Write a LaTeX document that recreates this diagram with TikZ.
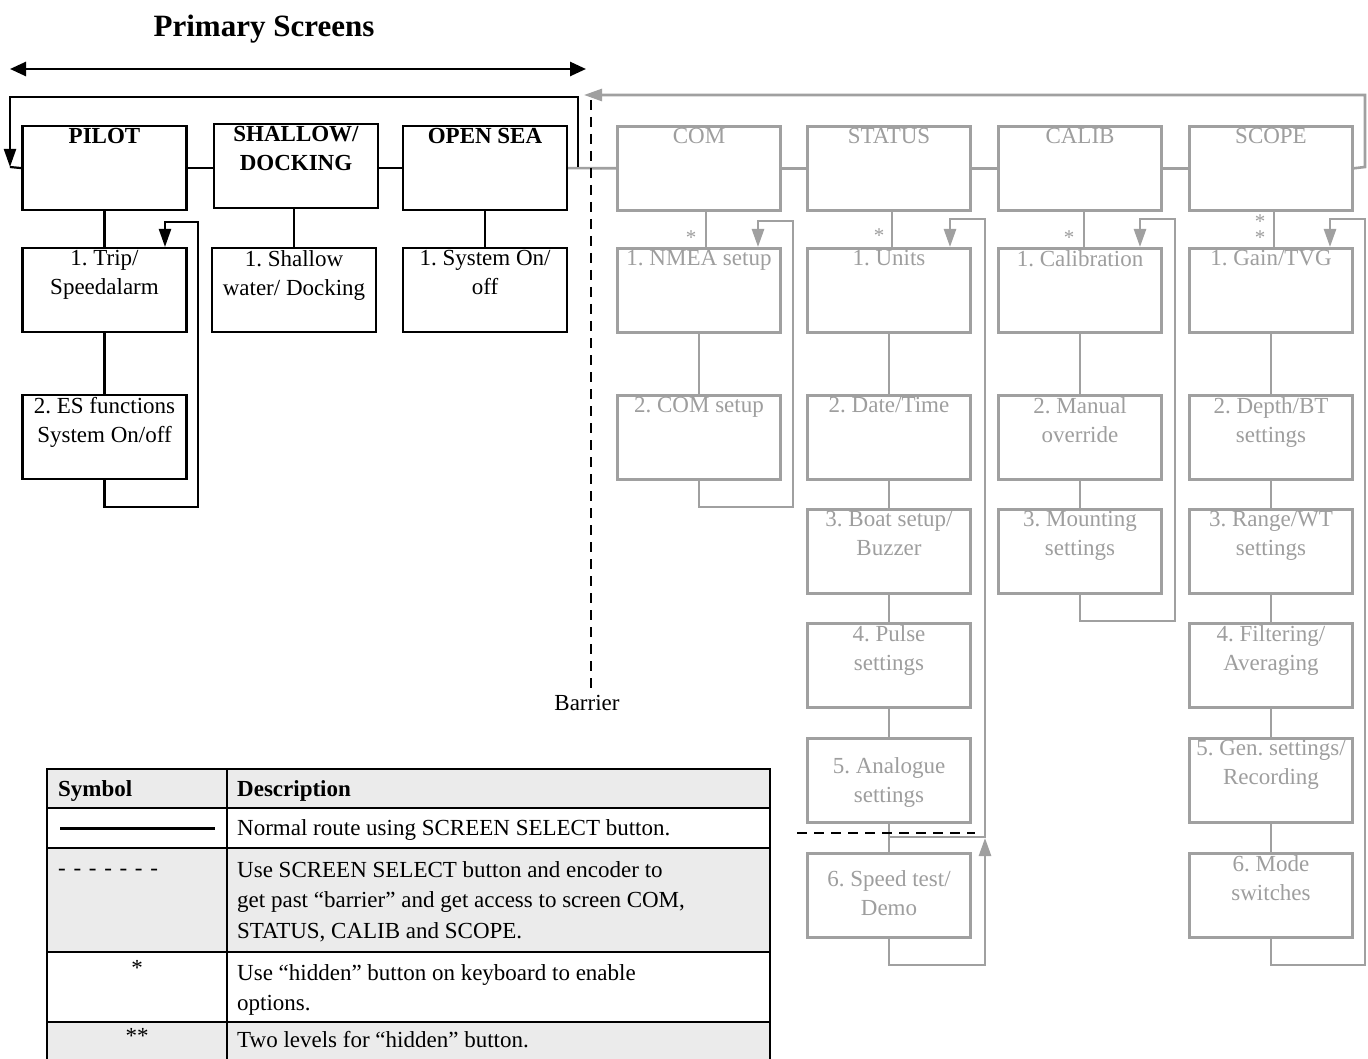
\documentclass[tikz,border=0pt]{standalone}
\usepackage{fontspec}
\setmainfont{Liberation Serif}
\usetikzlibrary{arrows.meta}
\definecolor{gl}{HTML}{A0A0A0}
\definecolor{gt}{HTML}{9E9E9E}
\definecolor{tfill}{HTML}{EBEBEB}
\newcommand\scrbx[7]{\node[#2] (#1) at (#3,#4) {}; \node[#5] (#1t) at (#3,#4+#6) {#7};}
\begin{document}
\frenchspacing
\begin{tikzpicture}[x=1pt,y=-1pt,
  bbox/.style={draw=black,line width=2.2pt,minimum width=164pt,minimum height=84pt,inner sep=0pt,anchor=north},
  gbox/.style={draw=gl,line width=2.6pt,minimum width=163pt,minimum height=84pt,inner sep=0pt,anchor=north},
  btxt/.style={anchor=north,inner sep=0pt,align=center,text=black,font=\fontsize{23}{29}\selectfont},
  gtxt/.style={anchor=north,inner sep=0pt,align=center,text=gt,font=\fontsize{23}{29}\selectfont},
  bline/.style={draw=black,line width=2.2pt},
  gline/.style={draw=gl,line width=2.6pt},
  barr/.style={-{Triangle[length=18pt,width=12pt]}},
  ast/.style={text=gt,inner sep=0pt,anchor=base,font=\fontsize{21}{21}\selectfont},
  ttxt/.style={anchor=north west,inner sep=0pt,align=left,font=\fontsize{23}{30.5}\selectfont},
]
\useasboundingbox (0,0) rectangle (1368,1059);
\fill[white] (0,0) rectangle (1368,1059);

% title and double arrow
\node[font=\fontsize{31}{31}\selectfont\bfseries] (title) at (264,29) {Primary Screens};
\coordinate (dl) at (10,69);
\coordinate (dr) at (586,69);
\draw[line width=2.6pt,{Triangle[length=16pt,width=14pt]}-{Triangle[length=16pt,width=14pt]}] (dl) -- (dr);

% primary boxes
\scrbx{pilot}{bbox}{104.5}{125}{btxt}{3}{\bfseries PILOT}
\scrbx{shallow}{bbox}{296}{123}{btxt}{3}{\bfseries SHALLOW/\\\bfseries DOCKING}
\scrbx{opensea}{bbox}{485}{125}{btxt}{3}{\bfseries OPEN SEA}
\scrbx{trip}{bbox}{104.5}{247}{btxt}{3}{1. Trip/\\Speedalarm}
\scrbx{shw}{bbox}{294}{247}{btxt}{3}{1. Shallow\\water/ Docking}
\scrbx{sys}{bbox}{485}{247}{btxt}{3}{1. System On/\\off}
\scrbx{es}{bbox}{104.5}{394}{btxt}{3}{2. ES functions\\System On/off}

% gray screens
\scrbx{com}{gbox}{699}{125}{gtxt}{3}{COM}
\scrbx{nmea}{gbox}{699}{247}{gtxt}{3}{1. NMEA setup}
\scrbx{comset}{gbox}{699}{394}{gtxt}{3}{2. COM setup}

\scrbx{status}{gbox}{889}{125}{gtxt}{3}{STATUS}
\scrbx{units}{gbox}{889}{247}{gtxt}{3}{1. Units}
\scrbx{date}{gbox}{889}{394}{gtxt}{3}{2. Date/Time}
\scrbx{boat}{gbox}{889}{508}{gtxt}{3}{3. Boat setup/\\Buzzer}
\scrbx{pulse}{gbox}{889}{622}{gtxt}{3}{4. Pulse\\settings}
\scrbx{analog}{gbox}{889}{737}{gtxt}{20}{5. Analogue\\settings}
\scrbx{speed}{gbox}{889}{852}{gtxt}{18}{6. Speed test/\\Demo}

\scrbx{calib}{gbox}{1080}{125}{gtxt}{3}{CALIB}
\scrbx{calibr}{gbox}{1080}{247}{gtxt}{3}{1. Calibration}
\scrbx{manual}{gbox}{1080}{394}{gtxt}{3}{2. Manual\\override}
\scrbx{mount}{gbox}{1080}{508}{gtxt}{3}{3. Mounting\\settings}

\scrbx{scope}{gbox}{1271}{125}{gtxt}{3}{SCOPE}
\scrbx{gain}{gbox}{1271}{247}{gtxt}{3}{1. Gain/TVG}
\scrbx{depth}{gbox}{1271}{394}{gtxt}{3}{2. Depth/BT\\settings}
\scrbx{range}{gbox}{1271}{508}{gtxt}{3}{3. Range/WT\\settings}
\scrbx{filt}{gbox}{1271}{622}{gtxt}{3}{4. Filtering/\\Averaging}
\scrbx{gen}{gbox}{1271}{737}{gtxt}{3}{5. Gen. settings/\\Recording}
\scrbx{mode}{gbox}{1271}{852}{gtxt}{3}{6. Mode\\switches}

% black connectors
\draw[bline] (pilot.east) -- (shallow.west |- pilot.east);
\draw[bline] (shallow.east |- opensea.west) -- (opensea.west);
\draw[bline] (pilot.south) -- (trip.north);
\draw[bline] (shallow.south -| shw.north) -- (shw.north);
\draw[bline] (opensea.south) -- (sys.north);
\draw[bline] (trip.south) -- (es.south |- es.north);
\draw[bline,barr] (es.south) -- (104.5,507) -- (198,507) -- (198,222) -- (165,222) -- (trip.north -| 165,0);

% gray connectors between screens
\draw[gline] (opensea.east) -- (com.west);
\draw[gline] (com.east) -- (status.west);
\draw[gline] (status.east) -- (calib.west);
\draw[gline] (calib.east) -- (scope.west);
\draw[gline,barr] (scope.east) -- (1365,167) -- (1365,95) -- (584,95);

% black return loop
\draw[bline] (578,167) -- (578,97) -- (10,97) -- (10,150);
\draw[bline,barr] (10,140) -- (10,167);
\draw[bline] (10,167) -- (pilot.west);

% barrier
\draw[line width=2.2pt,dash pattern=on 10pt off 7pt] (591,100) -- (591,690);
\node[font=\fontsize{23}{23}\selectfont] (barrier) at (587,703) {Barrier};

% COM column
\draw[gline] (com.south -| 706,0) -- (nmea.north -| 706,0);
\draw[gline] (nmea.south) -- (comset.north);
\draw[gline,barr] (comset.south) -- (699,507) -- (793,507) -- (793,221) -- (758,221) -- (nmea.north -| 758,0);
\node[ast] (a1) at (691,245) {*};

% STATUS column
\draw[gline] (status.south -| 892,0) -- (units.north -| 892,0);
\draw[gline] (units.south) -- (date.north);
\draw[gline] (date.south) -- (boat.north);
\draw[gline] (boat.south) -- (pulse.north);
\draw[gline] (pulse.south) -- (analog.north);
\draw[gline] (analog.south) -- (speed.north);
\draw[gline,barr] (889,837) -- (985,837) -- (985,219) -- (950,219) -- (units.north -| 950,0);
\draw[gline,barr] (speed.south) -- (889,965) -- (985,965) -- (985,838);
\draw[line width=2.2pt,dash pattern=on 10pt off 7pt] (797,833) -- (975,833);
\node[ast] (a2) at (879,243) {*};

% CALIB column
\draw[gline] (calib.south -| 1084,0) -- (calibr.north -| 1084,0);
\draw[gline] (calibr.south) -- (manual.north);
\draw[gline] (manual.south) -- (mount.north);
\draw[gline,barr] (mount.south) -- (1080,621) -- (1175,621) -- (1175,219) -- (1140,219) -- (calibr.north -| 1140,0);
\node[ast] (a3) at (1069,245) {*};

% SCOPE column
\draw[gline] (scope.south -| 1274,0) -- (gain.north -| 1274,0);
\draw[gline] (gain.south) -- (depth.north);
\draw[gline] (depth.south) -- (range.north);
\draw[gline] (range.south) -- (filt.north);
\draw[gline] (filt.south) -- (gen.north);
\draw[gline] (gen.south) -- (mode.north);
\draw[gline,barr] (mode.south) -- (1271,965) -- (1365,965) -- (1365,219) -- (1330,219) -- (gain.north -| 1330,0);
\node[text=gt,inner sep=0pt,anchor=south,align=center,font=\fontsize{21}{16}\selectfont] (a4) at (1260,245) {*\\*};

% legend table
\fill[tfill] (47,769) rectangle (770,808);
\fill[tfill] (47,848) rectangle (770,952);
\fill[tfill] (47,1022) rectangle (770,1075);
\draw[line width=2.5pt] (47,1075) -- (47,769) -- (770,769) -- (770,1075);
\draw[line width=2.5pt] (47,808) -- (770,808);
\draw[line width=2.5pt] (47,848) -- (770,848);
\draw[line width=2.5pt] (47,952) -- (770,952);
\draw[line width=2.5pt] (47,1022) -- (770,1022);
\draw[line width=2.5pt] (227,769) -- (227,1075);

\node[ttxt,font=\fontsize{23}{30.5}\selectfont\bfseries] (hsym) at (58,780) {Symbol};
\node[ttxt,font=\fontsize{23}{30.5}\selectfont\bfseries] (hdesc) at (237,780) {Description};
\draw[line width=3pt] (60,828) -- (215,828);
\node[ttxt] (d1) at (237,819) {Normal route using SCREEN SELECT button.};
\node[anchor=base west,inner sep=0pt,font=\fontsize{23}{23}\selectfont] (s2) at (58,875) {\spaceskip=7.7pt - - - - - - -};
\node[ttxt] (d2) at (237,861) {Use SCREEN SELECT button and encoder to\\get past “barrier” and get access to screen COM,\\STATUS, CALIB and SCOPE.};
\node[inner sep=0pt,font=\fontsize{23}{23}\selectfont] (s3) at (137,968) {*};
\node[ttxt] (d3) at (237,964) {Use “hidden” button on keyboard to enable\\options.};
\node[inner sep=0pt,font=\fontsize{23}{23}\selectfont] (s4) at (137,1036) {**};
\node[ttxt] (d4) at (237,1031) {Two levels for “hidden” button.};
\end{tikzpicture}
\end{document}
